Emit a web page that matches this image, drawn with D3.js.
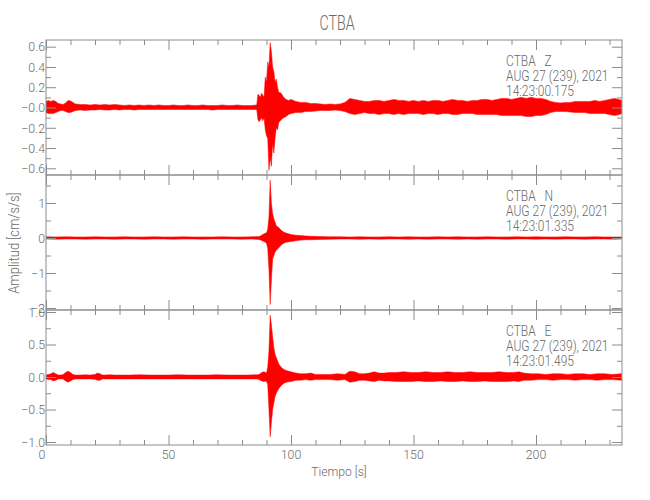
<!DOCTYPE html>
<html><head><meta charset="utf-8">
<script src="https://cdn.jsdelivr.net/npm/d3@7"></script>
<style>
body{margin:0;background:#fff;}
text{font-family:Roboto,"Liberation Sans",sans-serif;font-weight:300;fill:#6a6a6a;}
</style></head><body>
<svg id="chart" width="650" height="500"></svg>
<script>
// ---------------- DATA ----------------
const title = "CTBA";
const xLabel = "Tiempo [s]";
const yLabel = "Amplitud [cm/s/s]";
const xTicksMajor = [0, 50, 100, 150, 200];
const xDomain = [0, 235.1];

const components = ["Z", "N", "E"];
const stationLabels = ["CTBA   Z", "CTBA   N", "CTBA   E"];
const dateLabels = ["AUG 27 (239), 2021", "AUG 27 (239), 2021", "AUG 27 (239), 2021"];
const timeLabels = ["14:23:00.175", "14:23:01.335", "14:23:01.495"];

// y tick labels per panel
const zTickValues = [0.6, 0.4, 0.2, 0, -0.2, -0.4, -0.6];
const zTickText = ["0.6", "0.4", "0.2", "\u22120.0", "\u22120.2", "\u22120.4", "\u22120.6"];
const nTickValues = [1, 0, -1, -2];
const nTickText = ["1", "0", "\u22121", "\u22122"];
const eTickValues = [1, 0.5, 0, -0.5, -1];
const eTickText = ["1.0", "0.5", "0.0", "\u22120.5", "\u22121.0"];

const zDomain = [-0.666, 0.666];
const nDomain = [-2.057, 1.8];
const eDomain = [-1.046, 1.031];

// Envelope of each trace (time [s], upper and lower amplitude)
const zTime = [0,1,2,3,4,5,6,7,8,9,10,11,12,14,16,18,20,22,24,26,28,30,32,34,36,38,40,42,44,46,48,50,52,54,56,58,60,62,64,66,68,70,72,74,76,78,80,82,84,86,86.5,87,87.5,88,88.5,89,89.5,90,90.5,91,91.5,92,92.5,93,93.5,94,94.5,95,96,97,98,99,100,102,104,106,108,110,112,114,116,118,120,122,124,126,128,130,132,134,136,138,140,142,144,146,148,150,152,154,156,158,160,162,164,166,168,170,172,174,176,178,180,182,184,186,188,190,192,194,196,198,200,202,204,206,208,210,212,214,216,218,220,222,224,226,228,230,232,234,235];
const zUpper = [0.06,0.07,0.06,0.07,0.06,0.04,0.035,0.03,0.045,0.07,0.065,0.05,0.035,0.03,0.03,0.025,0.03,0.025,0.03,0.025,0.03,0.025,0.02,0.025,0.02,0.025,0.02,0.025,0.02,0.025,0.02,0.02,0.025,0.02,0.02,0.025,0.02,0.02,0.025,0.02,0.02,0.02,0.025,0.02,0.02,0.025,0.02,0.02,0.02,0.025,0.13,0.12,0.10,0.14,0.12,0.10,0.30,0.25,0.45,0.40,0.64,0.55,0.40,0.35,0.25,0.28,0.20,0.15,0.14,0.10,0.08,0.07,0.08,0.06,0.05,0.05,0.04,0.04,0.035,0.03,0.035,0.03,0.035,0.05,0.09,0.08,0.07,0.06,0.06,0.07,0.07,0.06,0.07,0.08,0.07,0.07,0.06,0.07,0.06,0.07,0.06,0.07,0.07,0.06,0.07,0.08,0.07,0.07,0.06,0.07,0.07,0.08,0.08,0.07,0.08,0.09,0.09,0.08,0.09,0.10,0.09,0.10,0.09,0.09,0.08,0.06,0.05,0.045,0.05,0.05,0.06,0.06,0.06,0.06,0.07,0.06,0.07,0.08,0.09,0.08,0.07];
const zLower = [-0.05,-0.06,-0.06,-0.06,-0.05,-0.04,-0.03,-0.03,-0.04,-0.05,-0.05,-0.04,-0.03,-0.025,-0.03,-0.025,-0.025,-0.02,-0.025,-0.025,-0.02,-0.025,-0.02,-0.02,-0.025,-0.02,-0.02,-0.02,-0.02,-0.02,-0.02,-0.02,-0.02,-0.02,-0.02,-0.02,-0.02,-0.02,-0.02,-0.02,-0.025,-0.02,-0.02,-0.02,-0.02,-0.02,-0.02,-0.02,-0.02,-0.02,-0.12,-0.14,-0.12,-0.10,-0.13,-0.10,-0.22,-0.28,-0.30,-0.62,-0.50,-0.58,-0.35,-0.45,-0.30,-0.20,-0.22,-0.15,-0.12,-0.10,-0.09,-0.07,-0.06,-0.05,-0.05,-0.04,-0.04,-0.035,-0.03,-0.03,-0.03,-0.025,-0.03,-0.04,-0.06,-0.07,-0.06,-0.05,-0.06,-0.06,-0.07,-0.06,-0.06,-0.07,-0.06,-0.07,-0.06,-0.06,-0.06,-0.07,-0.06,-0.06,-0.07,-0.06,-0.06,-0.07,-0.07,-0.06,-0.06,-0.06,-0.07,-0.07,-0.07,-0.07,-0.07,-0.08,-0.08,-0.08,-0.08,-0.08,-0.09,-0.09,-0.08,-0.08,-0.07,-0.05,-0.04,-0.04,-0.04,-0.045,-0.05,-0.05,-0.05,-0.06,-0.06,-0.06,-0.06,-0.07,-0.08,-0.07,-0.06];

const nTime = [0,4,8,12,16,20,24,28,32,36,40,44,48,52,56,60,64,68,72,76,80,84,87,88,89,90,90.5,91,91.5,92,92.5,93,93.5,94,95,96,97,98,100,102,104,106,108,112,116,120,124,128,132,136,140,144,148,152,156,160,164,168,172,176,180,184,188,192,196,200,204,208,212,216,220,224,228,232,235];
const nUpper = [0.035,0.03,0.035,0.03,0.03,0.035,0.03,0.03,0.035,0.03,0.03,0.035,0.03,0.03,0.035,0.03,0.03,0.03,0.035,0.03,0.03,0.035,0.04,0.08,0.12,0.15,0.25,0.60,1.65,1.00,0.70,0.55,0.45,0.35,0.30,0.22,0.17,0.14,0.10,0.08,0.07,0.06,0.05,0.04,0.035,0.035,0.03,0.035,0.03,0.03,0.035,0.03,0.035,0.03,0.03,0.035,0.03,0.035,0.03,0.03,0.035,0.03,0.03,0.035,0.03,0.035,0.03,0.03,0.035,0.03,0.03,0.035,0.03,0.03,0.03];
const nLower = [-0.03,-0.035,-0.03,-0.03,-0.035,-0.03,-0.03,-0.035,-0.03,-0.03,-0.035,-0.03,-0.03,-0.035,-0.03,-0.03,-0.035,-0.03,-0.03,-0.03,-0.035,-0.03,-0.04,-0.07,-0.10,-0.15,-0.30,-0.90,-1.90,-1.20,-0.60,-0.50,-0.40,-0.35,-0.28,-0.20,-0.15,-0.12,-0.10,-0.08,-0.06,-0.05,-0.05,-0.04,-0.035,-0.03,-0.03,-0.035,-0.03,-0.035,-0.03,-0.03,-0.035,-0.03,-0.035,-0.03,-0.03,-0.035,-0.03,-0.035,-0.03,-0.03,-0.035,-0.03,-0.03,-0.035,-0.03,-0.035,-0.03,-0.03,-0.035,-0.03,-0.03,-0.035,-0.03];

const eTime = [0,1,2,3,4,5,6,7,8,9,10,11,12,14,16,18,20,21,22,23,24,26,28,30,34,38,42,46,50,54,58,62,66,70,74,78,82,86,87,88,89,90,90.5,91,91.5,92,92.5,93,93.5,94,95,96,97,98,100,102,104,106,108,110,112,116,119,122,124,126,128,130,132,134,136,138,140,143,146,149,152,155,158,161,164,167,170,173,176,179,182,185,188,191,193,195,198,201,204,207,210,213,216,219,222,225,228,231,235];
const eUpper = [0.03,0.04,0.05,0.07,0.05,0.03,0.03,0.04,0.07,0.09,0.07,0.04,0.03,0.03,0.035,0.03,0.04,0.06,0.05,0.03,0.03,0.035,0.03,0.03,0.03,0.035,0.03,0.03,0.03,0.035,0.03,0.03,0.03,0.035,0.03,0.03,0.03,0.035,0.04,0.07,0.08,0.06,0.15,0.40,0.95,0.80,0.62,0.45,0.35,0.30,0.20,0.15,0.12,0.10,0.08,0.06,0.05,0.05,0.06,0.04,0.04,0.04,0.05,0.04,0.09,0.08,0.05,0.05,0.06,0.08,0.06,0.06,0.07,0.07,0.08,0.07,0.07,0.08,0.07,0.07,0.08,0.07,0.07,0.08,0.07,0.07,0.07,0.08,0.07,0.07,0.08,0.06,0.05,0.05,0.04,0.05,0.05,0.04,0.05,0.05,0.04,0.05,0.05,0.04,0.05];
const eLower = [-0.03,-0.04,-0.04,-0.06,-0.05,-0.03,-0.03,-0.03,-0.06,-0.08,-0.06,-0.04,-0.03,-0.03,-0.03,-0.03,-0.035,-0.05,-0.05,-0.03,-0.03,-0.03,-0.03,-0.03,-0.03,-0.03,-0.03,-0.03,-0.03,-0.03,-0.03,-0.03,-0.03,-0.03,-0.03,-0.03,-0.03,-0.03,-0.04,-0.06,-0.07,-0.06,-0.12,-0.50,-0.92,-0.70,-0.50,-0.40,-0.30,-0.25,-0.18,-0.13,-0.10,-0.08,-0.07,-0.05,-0.05,-0.04,-0.05,-0.04,-0.04,-0.04,-0.05,-0.04,-0.08,-0.07,-0.05,-0.05,-0.06,-0.07,-0.05,-0.06,-0.06,-0.07,-0.07,-0.07,-0.06,-0.07,-0.07,-0.06,-0.07,-0.07,-0.06,-0.07,-0.07,-0.06,-0.07,-0.07,-0.07,-0.06,-0.07,-0.05,-0.05,-0.04,-0.04,-0.05,-0.04,-0.04,-0.05,-0.04,-0.04,-0.05,-0.04,-0.04,-0.05];

// ---------------- DRAW ----------------
const svg = d3.select("#chart");
const left = 46, right = 622;
const panelTops = [40, 175, 310], panelH = 135;
const axisColor = "#8c8c8c";
const x = d3.scaleLinear().domain(xDomain).range([left, right]);

// narrow (condensed) text helper
function addText(parent, px, py, str, size, anchor, sx, rot) {
  const g = parent.append("g")
    .attr("transform", `translate(${px},${py})` + (rot ? ` rotate(${rot})` : "") + ` scale(${sx},1)`);
  return g.append("text").attr("font-size", size).attr("text-anchor", anchor || "start")
    .style("white-space", "pre").text(str);
}

const panels = [
  {time: zTime, up: zUpper, lo: zLower, domain: zDomain, tv: zTickValues, tt: zTickText, minorStep: 0.1},
  {time: nTime, up: nUpper, lo: nLower, domain: nDomain, tv: nTickValues, tt: nTickText, minorStep: 0.5},
  {time: eTime, up: eUpper, lo: eLower, domain: eDomain, tv: eTickValues, tt: eTickText, minorStep: 0.25}
];

const xMinor = d3.range(0, 236, 10).filter(v => v % 50 !== 0);

panels.forEach((p, i) => {
  const top = panelTops[i], bottom = top + panelH;
  const y = d3.scaleLinear().domain(p.domain).range([bottom, top]);
  const g = svg.append("g");

  const clipId = "clip" + i;
  svg.append("clipPath").attr("id", clipId).append("rect")
    .attr("x", left).attr("y", top - 4).attr("width", right - left).attr("height", panelH + 8);

  const data = p.time.map((t, k) => ({t, u: p.up[k], l: p.lo[k]}));
  g.append("path").datum(data)
    .attr("clip-path", `url(#${clipId})`)
    .attr("fill", "#ff0000").attr("stroke", "#ff0000").attr("stroke-width", 0.5)
    .attr("d", d3.area().x(d => x(d.t)).y0(d => y(d.l)).y1(d => y(d.u)));

  // frame
  g.append("rect").attr("x", left).attr("y", top).attr("width", right - left).attr("height", panelH)
    .attr("fill", "none").attr("stroke", axisColor).attr("stroke-width", 1);

  // y ticks (left & right)
  const [d0, d1] = p.domain;
  const minors = d3.range(Math.ceil(d0 / p.minorStep) * p.minorStep, d1 + 1e-9, p.minorStep)
    .map(v => +v.toFixed(3)).filter(v => !p.tv.some(m => Math.abs(m - v) < 1e-6));
  const leftAxis = d3.axisRight(y).tickValues(p.tv).tickSize(10).tickFormat("");
  const leftMinor = d3.axisRight(y).tickValues(minors).tickSize(5).tickFormat("");
  const rightAxis = d3.axisLeft(y).tickValues(p.tv).tickSize(10).tickFormat("");
  const rightMinor = d3.axisLeft(y).tickValues(minors).tickSize(5).tickFormat("");
  [[leftAxis, left], [leftMinor, left], [rightAxis, right], [rightMinor, right]].forEach(([ax, xp]) => {
    const a = g.append("g").attr("transform", `translate(${xp},0)`).call(ax);
    a.select(".domain").remove();
    a.selectAll("line").attr("stroke", axisColor);
  });
  // y tick labels
  p.tv.forEach((v, k) => {
    addText(g, left - 1, y(v) + 4.8, p.tt[k], 13, "end", 0.95);
  });

  // x ticks top & bottom
  [[d3.axisBottom(x), top], [d3.axisTop(x), bottom]].forEach(([mk, yp]) => {
    const a1 = g.append("g").attr("transform", `translate(0,${yp})`)
      .call(mk.tickValues(xTicksMajor).tickSize(10).tickFormat(""));
    a1.select(".domain").remove(); a1.selectAll("line").attr("stroke", axisColor);
  });
  [[d3.axisBottom(x), top], [d3.axisTop(x), bottom]].forEach(([mk, yp]) => {
    const a2 = g.append("g").attr("transform", `translate(0,${yp})`)
      .call(mk.tickValues(xMinor).tickSize(5).tickFormat(""));
    a2.select(".domain").remove(); a2.selectAll("line").attr("stroke", axisColor);
  });

  // annotation
  [stationLabels[i], dateLabels[i], timeLabels[i]].forEach((s, k) => {
    addText(g, 506, top + 26 + k * 15, s, 14, "start", 0.86);
  });
});

// x tick labels
xTicksMajor.forEach(v => addText(svg, x(v) - (v === 0 ? 4 : 0), 459, String(v), 13, "middle", 0.95));

addText(svg, 339, 476, xLabel, 13.5, "middle", 0.9);
addText(svg, 19, 243, yLabel, 14, "middle", 0.92, -90);
addText(svg, 337, 30, title, 21, "middle", 0.68);
</script>
</body></html>
